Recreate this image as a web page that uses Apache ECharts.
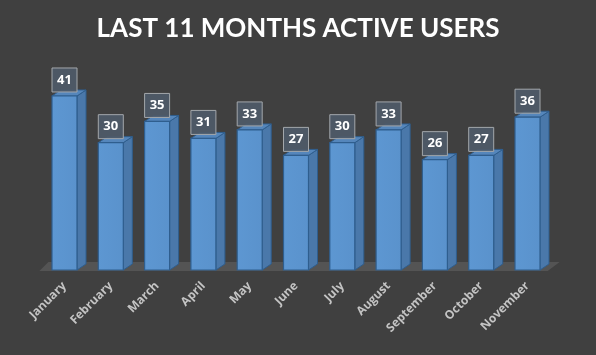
<!DOCTYPE html>
<html><head><meta charset="utf-8">
<script src="https://cdn.jsdelivr.net/npm/echarts@6/dist/echarts.min.js"></script>
<style>html,body{margin:0;padding:0;background:#404040}#c{width:596px;height:355px}</style>
</head><body><div id="c"></div>
<script>
const months = ["January","February","March","April","May","June","July","August","September","October","November"];
const users = [41,30,35,31,33,27,30,33,26,27,36];
const titleText = "LAST 11 MONTHS ACTIVE USERS";

const chart = echarts.init(document.getElementById('c'), null, {renderer:'canvas'});
const W = 25, D = 9, H = 6;
chart.setOption({
  backgroundColor:'#404040',
  animation:false,
  title:{text:titleText,left:'center',top:11,textStyle:{color:'#ffffff',fontFamily:'Lato',fontWeight:'bold',fontSize:26}},
  grid:{left:41.35,right:45.35,top:79,bottom:85},
  xAxis:{type:'category',data:months,axisLine:{show:false},axisTick:{show:false},
    axisLabel:{rotate:45,interval:0,margin:14,color:'#c4c4c4',fontFamily:'Open Sans',fontWeight:'bold',fontSize:12}},
  yAxis:{type:'value',min:0,max:45,show:false,splitLine:{show:false}},
  series:[
    {type:'custom',data:[[0,0]],silent:true,z:1,
     renderItem(params, api){
       const cs = params.coordSys;
       const yb = cs.y + cs.height + 1;
       const xl = cs.x - 2, xr = cs.x + cs.width - 3;
       return {type:'polygon',shape:{points:[[xl,yb],[xr,yb],[xr+12,yb-9],[xl+9,yb-9]]},style:{fill:'#545454'}};
     }},
    {type:'custom',data:users.map((v,i)=>[i,v]),z:2,
     renderItem(params, api){
       const t = api.coord([api.value(0), api.value(1)]);
       const b = api.coord([api.value(0), 0]);
       const x0 = t[0]-W/2, x1 = t[0]+W/2, y0 = t[1], y1 = b[1];
       const stroke = '#2f5e8e';
       return {type:'group',children:[
         {type:'polygon',shape:{points:[[x1,y0],[x1+D,y0-H],[x1+D,y1-H],[x1,y1]]},style:{fill:'#4a78aa',stroke:stroke,lineWidth:1}},
         {type:'polygon',shape:{points:[[x0,y0],[x0+D,y0-H],[x1+D,y0-H],[x1,y0]]},style:{fill:'#5586bb',stroke:stroke,lineWidth:1}},
         {type:'rect',shape:{x:x0,y:y0,width:W,height:y1-y0},
          style:{fill:new echarts.graphic.LinearGradient(0,0,1,0,[{offset:0,color:'#5d97d2'},{offset:1,color:'#5a92cc'}]),stroke:stroke,lineWidth:1.2}},
         {type:'rect',shape:{x:x0,y:y0-28,width:W,height:24},style:{fill:'rgba(78,90,104,0.92)',stroke:'#a3a7ab',lineWidth:1}},
         {type:'text',style:{text:String(api.value(1)),x:t[0],y:y0-16,align:'center',verticalAlign:'middle',fill:'#ffffff',font:'bold 13px "Open Sans"'}}
       ]};
     }}
  ]
});
</script></body></html>
